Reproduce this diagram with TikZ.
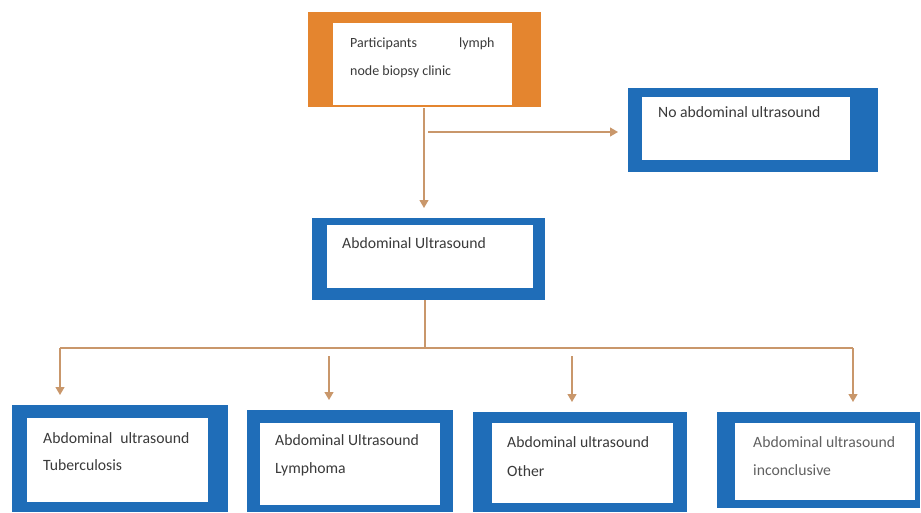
\documentclass[tikz,border=0pt]{standalone}
\usepackage{fontspec}
\setmainfont{Carlito}
\usetikzlibrary{arrows.meta}
\definecolor{boxblue}{HTML}{1F6DB8}
\definecolor{boxorange}{HTML}{E4852F}
\definecolor{linetan}{HTML}{C9976B}
\definecolor{txt}{HTML}{3A3A3A}
\begin{document}
\begin{tikzpicture}[x=1pt,y=-1pt,
  frame/.style={fill=#1, draw=none, inner sep=0pt, outer sep=0pt, anchor=north west},
  paper/.style={fill=white, draw=none, inner sep=0pt, outer sep=0pt, anchor=north west},
  lbl/.style={anchor=base west, inner sep=0pt, text=txt, font=\fontsize{15.7}{18}\selectfont},
  lbls/.style={lbl, font=\fontsize{14}{17}\selectfont},
  conn/.style={draw=linetan, line width=1.2pt},
  arr/.style={conn, -{Triangle[width=9pt,length=8pt]}, shorten >=10pt}
]
\useasboundingbox (0,0) rectangle (921,512);

% top box
\node[frame=boxorange, minimum width=233pt, minimum height=95pt] (top) at (308,12) {};
\node[paper, minimum width=179pt, minimum height=82pt] (topin) at (333,23) {};
\node[lbls] (t1) at (350,47) {Participants\hspace{3em}lymph};
\node[lbls] (t2) at (350,75) {node biopsy clinic};

% no abdominal ultrasound
\node[frame=boxblue, minimum width=250pt, minimum height=84pt] (noab) at (628,88) {};
\node[paper, minimum width=208pt, minimum height=63pt] (noabin) at (642,97) {};
\node[lbl] (tn) at (658,117) {No abdominal ultrasound};

% abdominal ultrasound
\node[frame=boxblue, minimum width=233pt, minimum height=82pt] (abd) at (312,218) {};
\node[paper, minimum width=206pt, minimum height=63pt] (abdin) at (327,225) {};
\node[lbl] (ta) at (342,248) {Abdominal Ultrasound};

% bottom boxes
\node[frame=boxblue, minimum width=216pt, minimum height=107pt] (b1) at (12,405) {};
\node[paper, minimum width=181pt, minimum height=84pt] (b1in) at (27,418) {};
\node[lbl] (b1a) at (43,443) {Abdominal\hspace{0.5em}ultrasound};
\node[lbl] (b1b) at (43,470) {Tuberculosis};

\node[frame=boxblue, minimum width=206pt, minimum height=102pt] (b2) at (247,410) {};
\node[paper, minimum width=180pt, minimum height=82pt] (b2in) at (260,423) {};
\node[lbl] (b2a) at (275,445) {Abdominal Ultrasound};
\node[lbl] (b2b) at (275,473) {Lymphoma};

\node[frame=boxblue, minimum width=214pt, minimum height=100pt] (b3) at (473,412) {};
\node[paper, minimum width=181pt, minimum height=80pt] (b3in) at (492,423) {};
\node[lbl] (b3a) at (507,447) {Abdominal ultrasound};
\node[lbl] (b3b) at (507,476) {Other};

\node[frame=boxblue, minimum width=203pt, minimum height=96pt] (b4) at (717,412) {};
\node[paper, minimum width=180pt, minimum height=77pt] (b4in) at (735,423) {};
\node[lbl, text=txt!80] (b4a) at (753,447) {Abdominal ultrasound};
\node[lbl, text=txt!80] (b4b) at (753,475) {inconclusive};

% connectors
\coordinate (vtop) at (424,108);
\coordinate (br) at (428,132);
\draw[arr] (vtop) -- (vtop |- abd.north);
\draw[arr] (br) -- (br -| noab.west);

\coordinate (hub) at (425,348);
\coordinate (a1) at (60,348);
\coordinate (a2) at (329,356);
\coordinate (a3) at (572,356);
\coordinate (a4) at (853,348);
\draw[conn] (hub |- abd.south) -- (hub);
\draw[conn] (a1) -- (a4);
\draw[arr] (a1) -- (a1 |- b1.north);
\draw[arr] (a2) -- (a2 |- b2.north);
\draw[arr] (a3) -- (a3 |- b3.north);
\draw[arr] (a4) -- (a4 |- b4.north);
\end{tikzpicture}
\end{document}
